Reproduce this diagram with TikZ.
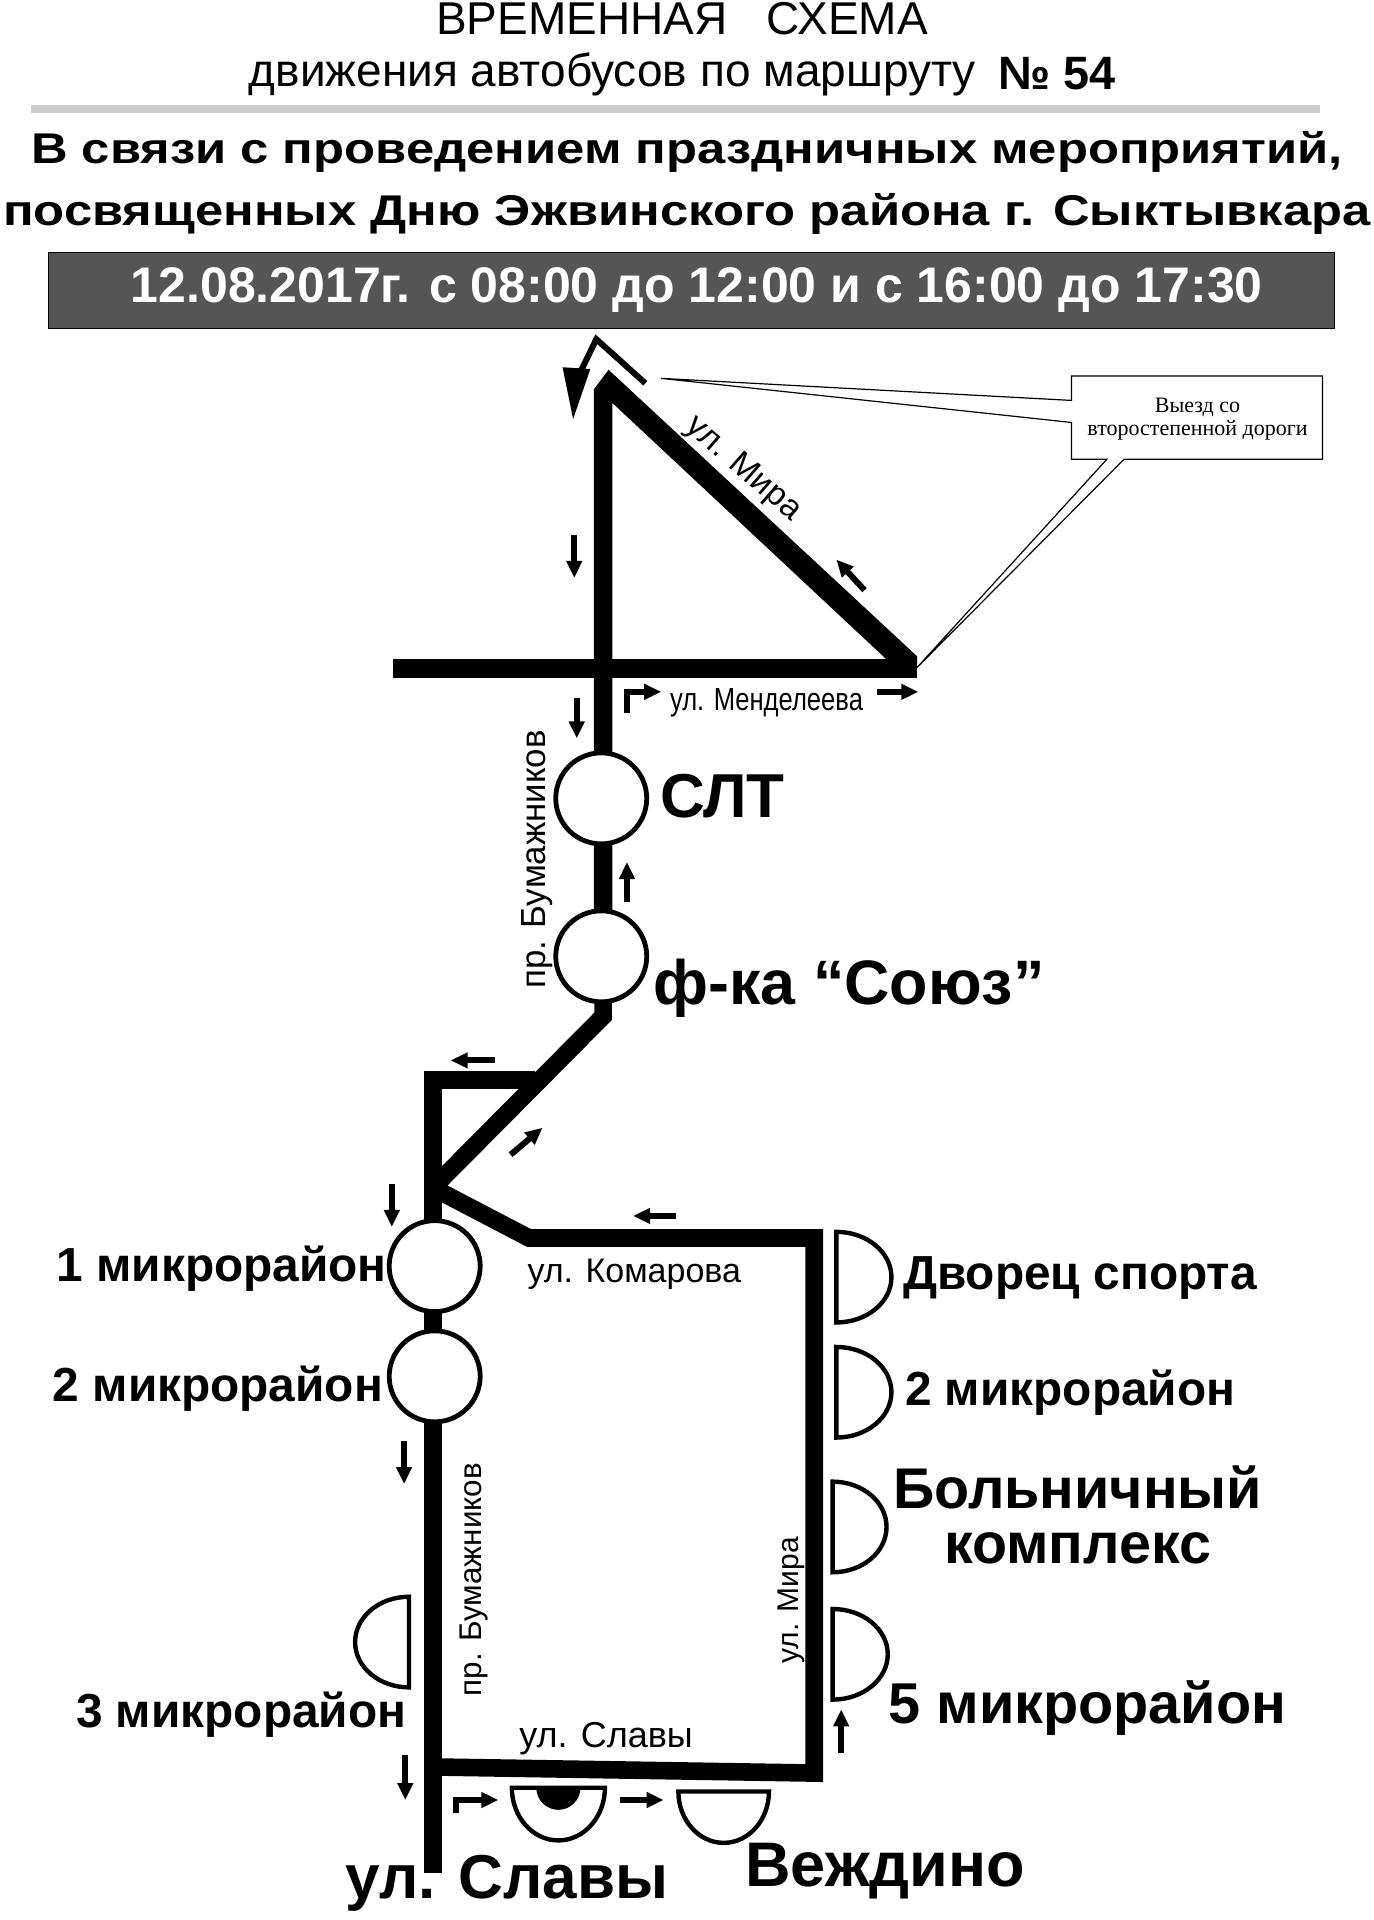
\documentclass[tikz,border=0pt]{standalone}
\usepackage{fontspec}
\usepackage{xcolor}
\usetikzlibrary{arrows.meta}
\setmainfont{Liberation Sans}
\newfontfamily\widefont{Liberation Sans}[FakeStretch=1.18]
\newfontfamily\narrowfont{Liberation Sans}[FakeStretch=0.8]
\newfontfamily\noteserif{Liberation Serif}
\definecolor{bannergray}{RGB}{85,85,85}
\definecolor{rulegray}{RGB}{205,205,205}

\begin{document}
\begin{tikzpicture}[x=0.6123pt, y=-0.6123pt]
  \tikzset{
    road/.style={line width=8.8pt, line join=miter},
    flow/.style={line width=3pt, -{Triangle[length=8.5pt,width=7.5pt]}},
    stopcircle/.style={draw, circle, line width=2.4pt, fill=white, minimum size=45.5pt, inner sep=0pt},
    stophalf/.style={draw, line width=2.2pt, fill=white},
    stoplabel/.style={font=\bfseries\fontsize{23.9}{28}\selectfont, inner sep=0pt},
    biglabel/.style={font=\bfseries\fontsize{31}{34}\selectfont, inner sep=0pt},
    streetlabel/.style={inner sep=0pt},
    headline/.style={font=\widefont\bfseries\fontsize{21.5}{24}\selectfont, inner sep=0pt}
  }
  \useasboundingbox (0,0) rectangle (1122,1568);

  % header
  \node[font=\fontsize{23}{26}\selectfont, inner sep=0pt] (title) at (557,15) {ВРЕМЕННАЯ\hspace{0.86em}СХЕМА};
  \node[font=\fontsize{23}{26}\selectfont, inner sep=0pt] (subtitle) at (500,61) {движения автобусов по маршруту};
  \node[font=\bfseries\fontsize{23.4}{26}\selectfont, inner sep=0pt] (routeno) at (863,60) {№ 54};
  \fill[rulegray] (25,85.5) rectangle (1078,92.5);
  \node[headline] (headone) at (561,124) {В связи с проведением праздничных мероприятий,};
  \node[headline] (headtwo) at (561,175) {посвященных Дню Эжвинского района г. Сыктывкара};
  \node[draw, line width=0.6pt, fill=bannergray, minimum width=643pt, minimum height=38pt, inner sep=0pt] (banner) at (565,237) {};
  \node[text=white, font=\bfseries\fontsize{25}{28}\selectfont, inner sep=0pt] (bannertext) at (569,237) {12.08.2017г. с 08:00 до 12:00 и с 16:00 до 17:30};

  % triangle and road north of the stops
  \fill (485,318) -- (497,302) -- (749,536) -- (749,546) -- (732,546) -- (500,329) -- (500,770) -- (485,770) -- cycle;
  \coordinate (barwest) at (321,546);
  \coordinate (bareast) at (749,546);
  \draw[line width=9.8pt] (barwest) -- (bareast);

  % roads
  \coordinate (soyuzbend) at (492.5,830);
  \coordinate (forkwest) at (353.5,970);
  \coordinate (branchnorth) at (437,882);
  \coordinate (cornernw) at (353.5,882);
  \coordinate (roadsouth) at (353.5,1530);
  \coordinate (komarovabend) at (432,1011);
  \coordinate (komarovaeast) at (665,1011);
  \coordinate (slavyeast) at (665,1448);
  \coordinate (slavywest) at (353.5,1443);
  \draw[road] (492.5,760) -- (soyuzbend) -- (forkwest);
  \draw[road] (branchnorth) -- (cornernw) -- (roadsouth);
  \draw[road] (forkwest) -- (komarovabend) -- (komarovaeast) -- (slavyeast) -- (slavywest);

  % stops on the road
  \node[stopcircle] (slt) at (491,652) {};
  \node[stopcircle] (soyuz) at (491,781) {};
  \node[stopcircle] (mkrone) at (355,1034) {};
  \node[stopcircle] (mkrtwo) at (355,1124) {};

  % half stops
  \draw[stophalf] (683,1006) arc[start angle=-90, end angle=90, x radius=45, y radius=37] -- cycle;
  \draw[stophalf] (683,1100) arc[start angle=-90, end angle=90, x radius=45, y radius=37] -- cycle;
  \draw[stophalf] (680,1210) arc[start angle=-90, end angle=90, x radius=44, y radius=37] -- cycle;
  \draw[stophalf] (680,1314) arc[start angle=-90, end angle=90, x radius=45, y radius=37] -- cycle;
  \draw[stophalf] (334,1304) arc[start angle=270, end angle=90, x radius=44, y radius=37] -- cycle;
  \draw[stophalf] (418,1460) arc[start angle=180, end angle=0, x radius=38, y radius=43] -- cycle;
  \fill (438,1460) arc[start angle=180, end angle=0, x radius=18, y radius=18] -- cycle;
  \draw[stophalf] (554,1463) arc[start angle=180, end angle=0, x radius=37, y radius=42] -- cycle;

  % direction marks
  \draw[flow] (469,437) -- (469,472);
  \draw[flow] (471,570) -- (471,603);
  \draw[flow] (512,737) -- (512,704);
  \draw[flow] (404,866) -- (368,866);
  \draw[flow] (417,943) -- (443,921);
  \draw[flow] (320,967) -- (320,1002);
  \draw[flow] (552,993) -- (517,993);
  \draw[flow] (330,1177) -- (330,1212);
  \draw[flow] (331,1433) -- (331,1470);
  \draw[flow] (687,1432) -- (687,1396);
  \draw[flow] (506,1470) -- (542,1470);
  \draw[flow] (716,565) -- (750,565);
  \draw[flow] (706,482) -- (683,457);
  \draw[flow] (512,582) -- (512,565) -- (540,565);
  \draw[flow] (372,1481) -- (372,1470) -- (407,1470);
  \draw[line width=3pt, -{Triangle[length=26pt,width=13pt]}] (527,313) -- (487,277) -- (470,312) -- (468,343);

  % callout
  \draw[line width=0.6pt, fill=white] (875,307) -- (1080,307) -- (1080,375) -- (918,375) -- (749,545) -- (904,375)
    -- (875,375) -- (875,345) -- (540,309) -- (875,327) -- cycle;
  \node[font=\noteserif\fontsize{11}{11.6}\selectfont, align=center, inner sep=0pt] (calloutnote) at (978,342) {Выезд со\\второстепенной дороги};

  % street names
  \node[streetlabel, font=\narrowfont\fontsize{16}{18}\selectfont] (mendeleev) at (626,574) {ул. Менделеева};
  \node[streetlabel, font=\fontsize{16.7}{18}\selectfont, rotate=-41] (miraone) at (607,383) {ул. Мира};
  \node[streetlabel, font=\fontsize{17.4}{20}\selectfont, rotate=90] (bumone) at (439,702) {пр. Бумажников};
  \node[streetlabel, font=\fontsize{17}{20}\selectfont] (komarova) at (518,1041) {ул. Комарова};
  \node[streetlabel, font=\fontsize{15.7}{18}\selectfont, rotate=90] (bumtwo) at (387,1290) {пр. Бумажников};
  \node[streetlabel, font=\fontsize{15}{18}\selectfont, rotate=90] (miratwo) at (646,1307) {ул. Мира};
  \node[streetlabel, font=\fontsize{18}{20}\selectfont] (slavy) at (495,1420) {ул. Славы};

  % stop names
  \node[biglabel] (sltname) at (590,650) {СЛТ};
  \node[biglabel, font=\bfseries\fontsize{31.4}{34}\selectfont] (soyuzname) at (693.5,807) {ф-ка “Союз”};
  \node[stoplabel] (mkronename) at (181,1036) {1 микрорайон};
  \node[stoplabel] (mkrtwoname) at (178,1134) {2 микрорайон};
  \node[stoplabel] (palacename) at (882,1044) {Дворец спорта};
  \node[stoplabel] (mkrtworight) at (874,1137) {2 микрорайон};
  \node[biglabel, font=\bfseries\fontsize{28.7}{27.5}\selectfont, align=center] (hospitalname) at (880,1237) {Больничный\\комплекс};
  \node[stoplabel, font=\bfseries\fontsize{28.8}{32}\selectfont] (mkrfivename) at (888,1395) {5 микрорайон};
  \node[stoplabel] (mkrthreename) at (197,1400) {3 микрорайон};
  \node[biglabel] (slavyname) at (414,1538) {ул. Славы};
  \node[biglabel, font=\bfseries\fontsize{31.5}{34}\selectfont] (vezhdino) at (723,1528) {Веждино};
\end{tikzpicture}
\end{document}
